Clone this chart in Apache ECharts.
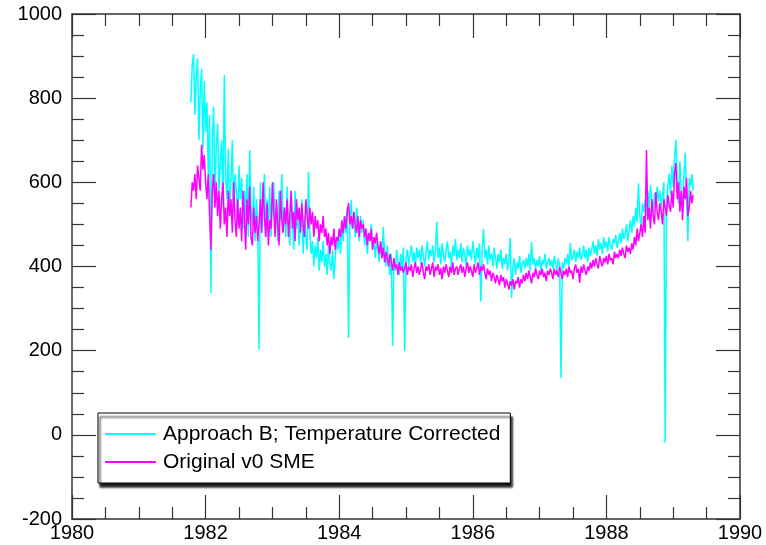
<!DOCTYPE html>
<html>
<head>
<meta charset="utf-8">
<script src="https://cdn.jsdelivr.net/npm/echarts@6/dist/echarts.min.js"></script>
<style>
html,body{margin:0;padding:0;background:#fff;}
#chart{width:766px;height:545px;}
</style>
</head>
<body>
<div id="chart"></div>
<script>
// Sampling of the time axis (decimal years)
const startYear = 1981.78;
const stepYears = 0.02;

const seriesNames = ['Approach B; Temperature Corrected', 'Original v0 SME'];

const approachB = [
  790, 880, 905, 760, 850, 895, 700, 820, 870, 680,
  840, 720, 790, 620, 760, 337, 700, 780, 560, 690,
  740, 580, 650, 700, 540, 855, 610, 560, 680, 520,
  600, 700, 530, 620, 580, 500, 640, 560, 610, 490,
  580, 520, 620, 470, 677, 540, 500, 590, 460, 560,
  510, 202, 600, 480, 540, 620, 470, 560, 500, 590,
  470, 550, 600, 490, 530, 460, 580, 510, 620, 480,
  540, 470, 590, 500, 450, 560, 520, 440, 580, 490,
  530, 450, 500, 560, 430, 520, 470, 440, 625, 480,
  430, 460, 400, 450, 420, 470, 390, 440, 410, 460,
  400, 430, 380, 450, 410, 390, 440, 370, 420, 460,
  440, 480, 430, 500, 460, 520, 480, 540, 230, 510,
  558, 490, 520, 470, 540, 500, 460, 520, 480, 510,
  450, 490, 430, 480, 460, 500, 440, 470, 420, 460,
  440, 410, 460, 420, 494, 430, 400, 450, 410, 380,
  430, 211, 420, 390, 440, 410, 380, 430, 400, 445,
  199, 420, 440, 400, 430, 450, 410, 435, 400, 445,
  420, 440, 405, 450, 425, 400, 435, 460, 415, 440,
  425, 450, 410, 435, 506, 420, 445, 405, 455, 430,
  410, 440, 460, 420, 435, 400, 450, 425, 465, 415,
  440, 420, 455, 410, 445, 430, 400, 450, 425, 440,
  415, 460, 430, 405, 445, 420, 455, 316, 440, 489,
  420, 440, 405, 450, 415, 430, 400, 445, 420, 395,
  430, 410, 440, 395, 420, 405, 430, 390, 415, 468,
  325, 400, 420, 380, 410, 395, 425, 385, 405, 415,
  395, 420, 400, 430, 390, 458, 405, 420, 395, 415,
  400, 425, 390, 415, 405, 430, 395, 410, 420, 400,
  415, 395, 425, 405, 390, 420, 400, 135, 410, 395,
  420, 405, 430, 400, 456, 415, 425, 440, 410, 435,
  420, 445, 415, 430, 450, 420, 440, 410, 445, 425,
  440, 460, 430, 450, 425, 465, 440, 455, 430, 470,
  445, 460, 435, 470, 450, 440, 465, 455, 475, 445,
  460, 480, 455, 490, 465, 475, 500, 460, 485, 510,
  480, 520, 495, 540, 505, 598, 520, 490, 550, 530,
  560, 520, 580, 540, 594, 550, 530, 575, 545, 590,
  555, 580, 540, 570, 600, -19, 560, 590, 620, 570,
  640, 590, 660, 701, 600, 550, 650, 580, 530, 620,
  670, 560, 460, 610, 590, 620, 580
];

const originalV0 = [
  540, 600, 580, 620, 560, 640, 610, 580, 689, 630,
  665, 600, 560, 620, 520, 439, 580, 620, 540, 600,
  520, 580, 490, 560, 600, 500, 540, 470, 580, 520,
  560, 480, 600, 510, 470, 560, 490, 540, 460, 580,
  520, 440, 560, 500, 590, 470, 450, 540, 480, 520,
  460, 500, 560, 480, 600, 520, 470, 550, 450, 510,
  490, 600, 530, 470, 560, 500, 450, 580, 510, 480,
  540, 500, 560, 470, 520, 580, 490, 530, 460, 560,
  510, 540, 480, 550, 500, 470, 560, 520, 490, 540,
  500, 530, 470, 520, 490, 510, 460, 500, 480, 520,
  470, 490, 450, 480, 430, 470, 450, 490, 440, 470,
  460, 490, 470, 510, 480, 520, 490, 530, 551, 500,
  520, 490, 530, 500, 480, 520, 470, 510, 490, 500,
  470, 490, 450, 480, 460, 490, 440, 470, 455, 480,
  450, 430, 460, 420, 445, 410, 435, 420, 400, 430,
  410, 390, 420, 395, 405, 380, 410, 390, 400, 385,
  395, 410, 380, 400, 390, 405, 375, 395, 410, 385,
  400, 380, 395, 410, 385, 370, 400, 390, 405, 380,
  395, 410, 375, 400, 390, 405, 380, 395, 370, 400,
  385, 405, 390, 375, 400, 385, 410, 380, 395, 400,
  380, 395, 405, 385, 400, 375, 395, 410, 385, 400,
  390, 375, 405, 385, 395, 410, 380, 400, 390, 405,
  385, 370, 395, 380, 390, 365, 385, 375, 360, 380,
  370, 355, 380, 365, 375, 350, 370, 360, 345, 365,
  355, 370, 345, 365, 360, 375, 350, 370, 360, 380,
  365, 385, 370, 390, 375, 360, 385, 375, 395, 380,
  370, 390, 380, 395, 375, 385, 365, 390, 380, 395,
  385, 370, 395, 380, 390, 375, 400, 385, 370, 390,
  380, 395, 375, 400, 385, 390, 370, 395, 405, 385,
  395, 361, 400, 385, 405, 390, 380, 400, 390, 410,
  395, 415, 400, 420, 405, 395, 425, 410, 400, 420,
  410, 425, 405, 430, 415, 420, 405, 435, 420, 430,
  420, 440, 425, 445, 430, 420, 450, 435, 445, 430,
  455, 440, 470, 450, 490, 460, 480, 500, 470, 520,
  480, 677, 510, 540, 490, 560, 520, 500, 577, 530,
  510, 550, 530, 500, 560, 540, 520, 570, 545, 530,
  580, 540, 620, 646, 560, 600, 530, 580, 510, 590,
  560, 610, 520, 540, 580, 550, 570
];

const xMin = 1980, xMax = 1990, xInterval = 2;
const yMin = -200, yMax = 1000, yInterval = 200;

function pairs(vals) {
  return vals.map((v, i) => [+(startYear + i * stepYears).toFixed(3), v]);
}

const FONT = '"Liberation Sans", Arial, Helvetica, sans-serif';
const axisColor = '#333';

function xAxisCfg(pos, showLabel) {
  return {
    type: 'value', position: pos, min: xMin, max: xMax, interval: xInterval,
    axisLine: { show: true, onZero: false, lineStyle: { color: axisColor, width: 1.5 } },
    axisTick: { show: true, inside: true, length: 24, lineStyle: { color: axisColor, width: 1.2 } },
    minorTick: { show: true, splitNumber: 4, length: 12, lineStyle: { color: axisColor, width: 1.2 } },
    splitLine: { show: false }, minorSplitLine: { show: false },
    axisLabel: { show: showLabel, color: '#000', fontSize: 20, fontFamily: FONT, margin: 4,
      formatter: v => String(v) }
  };
}
function yAxisCfg(pos, showLabel) {
  return {
    type: 'value', position: pos, min: yMin, max: yMax, interval: yInterval,
    axisLine: { show: true, onZero: false, lineStyle: { color: axisColor, width: 1.5 } },
    axisTick: { show: true, inside: true, length: 24, lineStyle: { color: axisColor, width: 1.2 } },
    minorTick: { show: true, splitNumber: 4, length: 12, lineStyle: { color: axisColor, width: 1.2 } },
    splitLine: { show: false }, minorSplitLine: { show: false },
    axisLabel: { show: showLabel, color: '#000', fontSize: 20, fontFamily: FONT, margin: 10,
      formatter: v => String(v) }
  };
}

const chart = echarts.init(document.getElementById('chart'), null, { renderer: 'canvas' });
chart.setOption({
  animation: false,
  backgroundColor: '#fff',
  grid: { left: 72, top: 14, right: 26, bottom: 26, containLabel: false },
  xAxis: [xAxisCfg('bottom', true), xAxisCfg('top', false)],
  yAxis: [yAxisCfg('left', true), yAxisCfg('right', false)],
  legend: {
    orient: 'vertical', left: 98, top: 413,
    padding: [10, 10, 10, 7], itemGap: 6,
    itemWidth: 51, itemHeight: 2,
    backgroundColor: '#fff', borderColor: '#000', borderWidth: 1,
    shadowColor: 'rgba(0,0,0,0.9)', shadowBlur: 2, shadowOffsetX: 2, shadowOffsetY: 4,
    textStyle: { fontSize: 21, fontFamily: FONT, color: '#000', lineHeight: 22, padding: [0, 0, 0, 2] },
    data: [
      { name: seriesNames[0], icon: 'rect' },
      { name: seriesNames[1], icon: 'rect' }
    ]
  },
  series: [
    {
      name: seriesNames[0], type: 'line', xAxisIndex: 0, yAxisIndex: 0,
      data: pairs(approachB), showSymbol: false, symbol: 'none',
      lineStyle: { color: '#00ffff', width: 1.5 }, itemStyle: { color: '#00ffff' }
    },
    {
      name: seriesNames[1], type: 'line', xAxisIndex: 0, yAxisIndex: 0,
      data: pairs(originalV0), showSymbol: false, symbol: 'none',
      lineStyle: { color: '#ff00ff', width: 1.5 }, itemStyle: { color: '#ff00ff' }
    }
  ]
});
</script>
</body>
</html>
